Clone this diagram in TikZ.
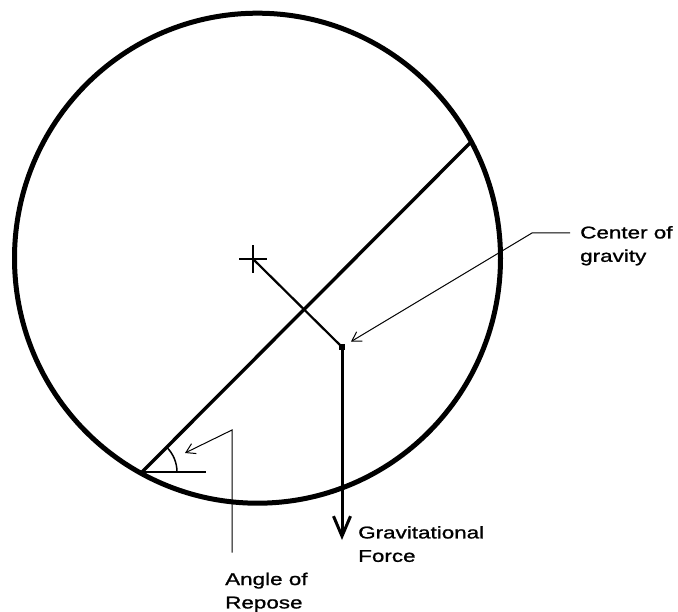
\documentclass[tikz,border=0pt]{standalone}
\usepackage{fontspec}
\newfontfamily\labelfont[FakeStretch=1.32,FakeBold=1.2]{Liberation Sans}
\usetikzlibrary{arrows.meta,positioning}
\tikzset{
  rim/.style={draw,line width=5pt},
  slope/.style={line width=3.4pt},
  thinline/.style={line width=1.5pt},
  leader/.style={-{Straight Barb[length=9pt,width=11pt]},line width=1pt},
  force/.style={-{Straight Barb[length=20pt,width=17pt]},line width=3pt},
  callout/.style={align=left,inner sep=0pt,font=\labelfont\fontsize{17}{23.4}\selectfont},
  cgdot/.style={fill,inner sep=0pt,minimum size=5.5pt}
}

\begin{document}
\begin{tikzpicture}[x=1pt,y=-1pt]
\useasboundingbox (0,0) rectangle (678,612);
% drum and the slope of the material
\coordinate (centre) at (257.5,258.2);
\coordinate (mid) at (253,259);
\coordinate (low) at (142,472);
\coordinate (high) at (470,143);
\draw[rim] (centre) circle[x radius=243,y radius=245];
\draw[slope] (low) -- (high);
% centre mark, centre of gravity and its weight
\node[cgdot] (cog) at (342,347) {};
\coordinate (tip) at (342,540);
\draw[thinline] ([xshift=-14pt]mid) -- ([xshift=14pt]mid) ([yshift=-14pt]mid) -- ([yshift=14pt]mid);
\draw[line width=2.2pt] (mid) -- (cog.center);
\draw[force] (cog.center) -- (tip);
% angle at the foot of the slope
\draw[thinline] (low) -- ++(64,0);
\draw[thinline] ([xshift=35pt]low) arc[start angle=0,end angle=-45,radius=35];
% labels
\node[callout,anchor=north west] (cglabel) at (580,225.9) {Center of\\gravity};
\node[callout,anchor=north west] (gflabel) at (358,525.9) {Gravitational\\Force};
\node[callout,anchor=north west] (arlabel) at (225,572.5) {Angle of\\Repose};
\coordinate (cgbend) at (532,233);
\coordinate (arbend) at (232,430);
\coordinate (arpoint) at (185,453);
\draw[leader,shorten >=7pt] ([shift={(-10pt,-7pt)}]cglabel.north west) -- (cgbend) -- (cog);
\draw[leader] ([shift={(7pt,20pt)}]arlabel.north west) -- (arbend) -- (arpoint);
\end{tikzpicture}
\end{document}
